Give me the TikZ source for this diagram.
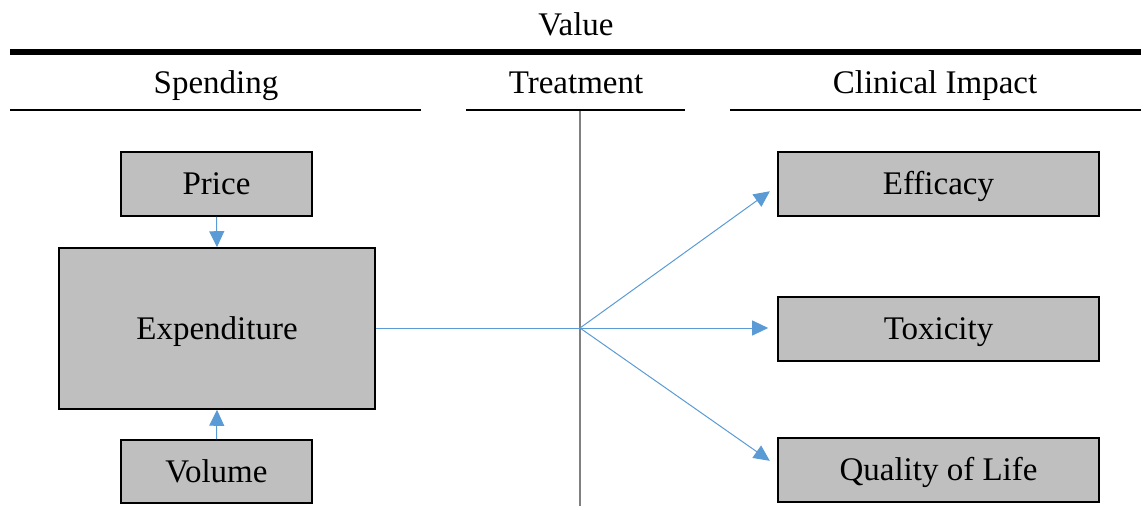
\documentclass[tikz,border=0pt]{standalone}
\usepackage{fontspec}
\setmainfont{Liberation Serif}
\usetikzlibrary{arrows.meta}
\definecolor{boxgray}{HTML}{BFBFBF}
\definecolor{arrowblue}{HTML}{5B9BD5}
\definecolor{axisgray}{HTML}{808080}
\begin{document}
\begin{tikzpicture}[x=1pt,y=-1pt,
  every node/.style={font=\fontsize{33}{38}\selectfont, inner sep=0pt, text height=21.8pt, text depth=0pt},
  box/.style={draw=black, line width=1.6pt, fill=boxgray, rectangle},
  flow/.style={draw=arrowblue, line width=1pt, -{Triangle[length=16pt,width=15pt]}},
  rule/.style={draw=black, line width=2pt},
  heading/.style={anchor=center}]
\useasboundingbox (0,0) rectangle (1141,506);
% headings
\node[heading] (value) at (576,25) {Value};
\draw[draw=black, line width=6pt] (10,52) -- (1141,52);
\node[heading] (spend) at (216,83) {Spending};
\node[heading] (treat) at (576,83) {Treatment};
\node[heading] (clin) at (935,83) {Clinical Impact};
\draw[rule] (10,110) -- (421,110);
\draw[rule] (466,110) -- (685,110);
\draw[rule] (730,110) -- (1141,110);
% treatment axis
\draw[draw=axisgray, line width=2pt] (580,111) -- (580,506);
% boxes
\node[box, minimum width=191pt, minimum height=64pt] (price) at (216.5,184) {Price};
\node[box, minimum width=316pt, minimum height=161pt] (exp) at (217,328.5) {Expenditure};
\node[box, minimum width=191pt, minimum height=63pt] (vol) at (216.5,471.5) {Volume};
\node[box, minimum width=321pt, minimum height=64pt] (eff) at (938.5,184) {Efficacy};
\node[box, minimum width=321pt, minimum height=64pt] (tox) at (938.5,329) {Toxicity};
\node[box, minimum width=321pt, minimum height=64pt] (qol) at (938.5,470) {Quality of Life};
\coordinate (hub) at (580,328);
% connectors
\draw[flow] (price.south) -- (exp.north);
\draw[flow] (vol.north) -- (exp.south);
\draw[draw=arrowblue, line width=1pt] (exp.east |- hub) -- (hub);
\draw[flow, shorten >=9pt] (hub) -- ([yshift=-2pt]eff.west);
\draw[flow, shorten >=9pt] (hub) -- (tox.west |- hub);
\draw[flow, shorten >=9pt] (hub) -- ([yshift=4pt]qol.west);
\end{tikzpicture}
\end{document}
